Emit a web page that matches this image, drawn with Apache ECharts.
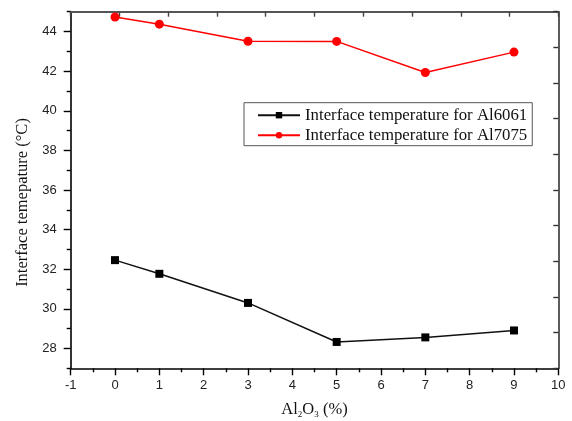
<!DOCTYPE html>
<html>
<head>
<meta charset="utf-8">
<script src="https://cdn.jsdelivr.net/npm/echarts@6/dist/echarts.min.js"></script>
<style>
  html, body { margin: 0; padding: 0; background: #fff; }
  #chart { width: 572px; height: 421px; }
</style>
</head>
<body>
<div id="chart"></div>
<script>
// Al2O3 content (%)
var xValues = [0, 1, 3, 5, 7, 9];
// interface temperature (°C)
var al6061 = [32.46, 31.77, 30.30, 28.33, 28.56, 28.91];
var al7075 = [44.73, 44.37, 43.51, 43.50, 41.93, 42.96];
var seriesNames = ['Interface temperature for Al6061', 'Interface temperature for Al7075'];
// y ticks: labelled even values, short ticks on odd values
var yMajor = [28, 30, 32, 34, 36, 38, 40, 42, 44];
var yMinor = [27, 29, 31, 33, 35, 37, 39, 41, 43, 45];

function pairs(ys) {
    return xValues.map(function(x, i) { return [x, ys[i]]; });
}

var serif = '"Liberation Serif", "Times New Roman", serif';
var sans = '"Liberation Sans", Arial, sans-serif';

var chart = echarts.init(document.getElementById('chart'));
var option = {
    backgroundColor: '#fff',
    animation: false,
    grid: { left: 70.7, right: 13.7, top: 11.7, bottom: 52.7, containLabel: false, outerBoundsMode: 'none' },
    legend: {
        left: 244,
        top: 102.7,
        orient: 'vertical',
        data: seriesNames,
        itemWidth: 42,
        itemHeight: 8,
        itemGap: 3,
        padding: [4, 5, 2, 13],
        borderColor: '#555',
        borderWidth: 1,
        backgroundColor: '#fff',
        textStyle: { fontFamily: serif, fontSize: 16.8, color: '#111' }
    },
    xAxis: [{
        type: 'value',
        min: -1, max: 10, interval: 1,
        name: 'Al{s|2}O{s|3} (%)',
        nameLocation: 'middle',
        nameGap: 31,
        nameTextStyle: {
            fontFamily: serif, fontSize: 16.5, color: '#111',
            rich: { s: { fontFamily: serif, fontSize: 9, color: '#111', verticalAlign: 'bottom', padding: [11, 0, 0, 0] } }
        },
        axisLine: { onZero: false, lineStyle: { color: '#000', width: 1.6 } },
        axisTick: { length: 7, lineStyle: { color: '#000', width: 1.4 } },
        minorTick: { show: true, splitNumber: 2, length: 4, lineStyle: { color: '#000', width: 1.4 } },
        axisLabel: { fontFamily: sans, fontSize: 13, color: '#222', margin: 11 },
        splitLine: { show: false }
    }, {
        // frame on top
        type: 'value',
        position: 'top',
        min: 0, max: 10, interval: 1,
        axisLine: { onZero: false, lineStyle: { color: '#555', width: 1.8 } },
        axisTick: { inside: true, length: 5, lineStyle: { color: '#444', width: 1.4 } },
        axisLabel: { show: false },
        splitLine: { show: false }
    }],
    yAxis: [{
        type: 'value',
        min: 27, max: 45,
        name: 'Interface temepature (\u00b0C)',
        nameLocation: 'middle',
        nameGap: 38,
        nameTextStyle: { fontFamily: serif, fontSize: 16.5, color: '#111', padding: [0, 25, 0, 0] },
        axisLine: { onZero: false, lineStyle: { color: '#000', width: 1.6 } },
        axisTick: { customValues: yMajor, length: 7, lineStyle: { color: '#000', width: 1.4 } },
        axisLabel: { customValues: yMajor, fontFamily: sans, fontSize: 13, color: '#222', margin: 14 },
        splitLine: { show: false }
    }, {
        // short ticks on odd values
        type: 'value',
        position: 'left',
        min: 27, max: 45,
        axisLine: { show: false, onZero: false },
        axisTick: { customValues: yMinor, length: 4, lineStyle: { color: '#000', width: 1.4 } },
        axisLabel: { show: false },
        splitLine: { show: false }
    }, {
        // frame on the right
        type: 'value',
        position: 'right',
        min: 0, max: 10, interval: 1,
        axisLine: { show: true, onZero: false, lineStyle: { color: '#333', width: 1.6 } },
        axisTick: { show: true, inside: true, length: 5, lineStyle: { color: '#333', width: 1.4 } },
        axisLabel: { show: false },
        splitLine: { show: false }
    }],
    series: [{
        name: seriesNames[0],
        type: 'line',
        data: pairs(al6061),
        symbol: 'rect',
        symbolSize: 8,
        itemStyle: { color: '#000' },
        lineStyle: { color: '#111', width: 1.5 }
    }, {
        name: seriesNames[1],
        type: 'line',
        data: pairs(al7075),
        symbol: 'circle',
        symbolSize: 9,
        itemStyle: { color: '#ff0000' },
        lineStyle: { color: '#ff0000', width: 1.5 }
    }]
};
chart.setOption(option);
</script>
</body>
</html>
